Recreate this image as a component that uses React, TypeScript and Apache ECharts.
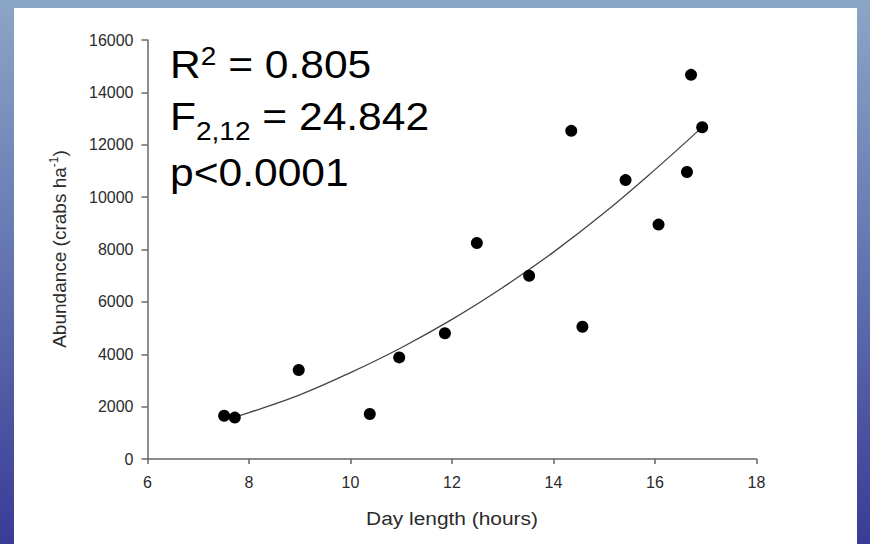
import React, { useEffect, useRef } from 'react';
import * as echarts from 'echarts';

// ---- data ----
const dayLength = [7.51, 7.72, 8.98, 10.38, 10.96, 11.86, 12.49, 13.52, 14.35, 14.57, 15.42, 16.07, 16.63, 16.71, 16.93];
const abundance = [1650, 1580, 3400, 1720, 3880, 4800, 8250, 7000, 12530, 5050, 10650, 8950, 10960, 14670, 12670];
const fitDay = [7.72, 8, 9, 10, 11, 12, 13, 14, 15, 16, 16.85];
const fitAbundance = [1600, 1770, 2450, 3300, 4250, 5330, 6550, 7900, 9400, 11050, 12530];
const xMin = 6;
const xMax = 18;
const xStep = 2;
const yMin = 0;
const yMax = 16000;
const yStep = 2000;
const xName = 'Day length (hours)';
const yNameMain = 'Abundance (crabs ha';
const yNameSup = '-1';
const yNameEnd = ')';
const statR = ['R', '2', ' = 0.805'];
const statF = ['F', '2,12', ' = 24.842'];
const statP = 'p<0.0001';

const FAMILY = '"Liberation Sans", Arial, Helvetica, sans-serif';

let measureCtx: CanvasRenderingContext2D | null = null;
function measure(t: string, size: number): number {
  if (!measureCtx) {
    const c = document.createElement('canvas');
    measureCtx = c.getContext('2d');
  }
  if (!measureCtx) return t.length * size * 0.55;
  measureCtx.font = `${size}px "Liberation Sans", Arial, sans-serif`;
  return measureCtx.measureText(t).width;
}

type Piece = { t: string; size: number; dy: number };

function lineChildren(pieces: Piece[], color: string, startX = 0) {
  let x = startX;
  const out: any[] = [];
  for (const p of pieces) {
    out.push({
      type: 'text',
      x,
      y: p.dy - 0.35 * p.size,
      silent: true,
      style: {
        text: p.t,
        fontSize: p.size,
        fontFamily: FAMILY,
        fill: color,
        align: 'left',
        verticalAlign: 'middle',
        textAlign: 'left',
        textVerticalAlign: 'middle',
      },
    });
    x += measure(p.t, p.size);
  }
  return out;
}

function lineWidth(pieces: Piece[]) {
  return pieces.reduce((s, p) => s + measure(p.t, p.size), 0);
}

export default function App() {
  const ref = useRef<HTMLDivElement>(null);

  useEffect(() => {
    if (!ref.current) return;
    const chart = echarts.init(ref.current, undefined, { renderer: 'svg' });

    const big = 38;
    const small = 25;
    const sx = 1.12;
    const textColor = '#000';

    const yPieces: Piece[] = [
      { t: yNameMain, size: 19, dy: 0 },
      { t: yNameSup, size: 12, dy: -8 },
      { t: yNameEnd, size: 19, dy: 0 },
    ];
    const yLen = lineWidth(yPieces);

    const option: any = {
      animation: false,
      backgroundColor: new echarts.graphic.LinearGradient(0, 0, 0, 1, [
        { offset: 0, color: '#8ba6c6' },
        { offset: 0.5, color: '#6273b0' },
        { offset: 1, color: '#3a3b96' },
      ]),
      grid: { left: 147.5, right: 113.5, top: 40, bottom: 85 },
      xAxis: {
        type: 'value',
        min: xMin,
        max: xMax,
        interval: xStep,
        splitLine: { show: false },
        axisLine: { show: true, onZero: false, lineStyle: { color: '#666', width: 1.5 } },
        axisTick: { show: true, length: 5, lineStyle: { color: '#666', width: 1.5 } },
        axisLabel: {
          color: '#2b2b2b',
          fontSize: 16,
          fontFamily: FAMILY,
          margin: 15,
          formatter: (v: number) => String(v),
        },
      },
      yAxis: {
        type: 'value',
        min: yMin,
        max: yMax,
        interval: yStep,
        splitLine: { show: false },
        axisLine: { show: true, lineStyle: { color: '#666', width: 1.5 } },
        axisTick: { show: true, length: 6, lineStyle: { color: '#666', width: 1.5 } },
        axisLabel: {
          color: '#2b2b2b',
          fontSize: 16,
          fontFamily: FAMILY,
          margin: 14,
          formatter: (v: number) => String(v),
        },
      },
      series: [
        {
          type: 'line',
          data: fitDay.map((d, i) => [d, fitAbundance[i]]),
          smooth: 0.4,
          showSymbol: false,
          symbol: 'none',
          lineStyle: { color: '#444', width: 1.3 },
          z: 2,
        },
        {
          type: 'scatter',
          data: dayLength.map((d, i) => [d, abundance[i]]),
          symbol: 'circle',
          symbolSize: 12,
          itemStyle: { color: '#000', opacity: 1 },
          z: 3,
        },
      ],
      graphic: [
        {
          type: 'rect',
          z: -100,
          silent: true,
          shape: { x: 14, y: 8, width: 843, height: 540 },
          style: { fill: '#ffffff' },
        },
        {
          type: 'group',
          x: 170,
          y: 78,
          scaleX: sx,
          children: lineChildren(
            [
              { t: statR[0], size: big, dy: 0 },
              { t: statR[1], size: small, dy: -13 },
              { t: statR[2], size: big, dy: 0 },
            ],
            textColor
          ),
        },
        {
          type: 'group',
          x: 170,
          y: 130,
          scaleX: sx,
          children: lineChildren(
            [
              { t: statF[0], size: big, dy: 0 },
              { t: statF[1], size: small, dy: 10 },
              { t: statF[2], size: big, dy: 0 },
            ],
            textColor
          ),
        },
        {
          type: 'group',
          x: 170,
          y: 186,
          scaleX: sx,
          children: lineChildren([{ t: statP, size: big, dy: 0 }], textColor),
        },
        {
          type: 'text',
          x: 452,
          y: 525 - 0.35 * 19,
          scaleX: 1.1,
          silent: true,
          style: {
            text: xName,
            fontSize: 19,
            fontFamily: FAMILY,
            fill: '#2b2b2b',
            align: 'center',
            verticalAlign: 'middle',
            textAlign: 'center',
            textVerticalAlign: 'middle',
          },
        },
        {
          type: 'group',
          x: 66,
          y: 249,
          rotation: Math.PI / 2,
          children: lineChildren(yPieces, '#2b2b2b', -yLen / 2),
        },
      ],
    };

    chart.setOption(option);
    return () => chart.dispose();
  }, []);

  return (
    <div
      ref={ref}
      style={{ position: 'fixed', left: 0, top: 0, width: 870, height: 544 }}
    />
  );
}
